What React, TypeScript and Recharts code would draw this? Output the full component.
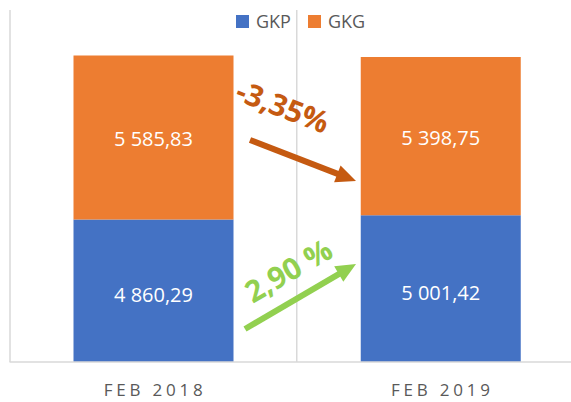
import React from 'react';
import { BarChart, Bar, XAxis, YAxis, CartesianGrid, Legend, LabelList } from 'recharts';

const categories = ['FEB 2018', 'FEB 2019'];
const gkpValues = [4860.29, 5001.42];
const gkgValues = [5585.83, 5398.75];
const yDomain = [0, 12000];

const data = categories.map((c, i) => ({ name: c, GKP: gkpValues[i], GKG: gkgValues[i] }));

const BLUE = '#4472C4';
const ORANGE = '#ED7D31';
const FONT = '"Open Sans", "Noto Sans", sans-serif';

const fmt = (v: number) => {
  const [int, dec] = v.toFixed(2).split('.');
  return int.replace(/\B(?=(\d{3})+(?!\d))/g, ' ') + ',' + dec;
};

const pct = (a: number, b: number) => ((b - a) / a * 100).toFixed(2).replace('.', ',');
const gkgChange = pct(gkgValues[0], gkgValues[1]) + '%';
const gkpChange = pct(gkpValues[0], gkpValues[1]) + ' %';

const makeLabel = (dy: number) => (props: any) => {
  const { x, y, width, height, value } = props;
  return (
    <text x={x + width / 2} y={y + height / 2 + dy} textAnchor="middle" dominantBaseline="central"
      fill="#FFFFFF" fontSize={20} fontFamily={FONT}>{fmt(value)}</text>
  );
};

const Tick = (props: any) => {
  const { x, y, payload } = props;
  return (
    <text x={x + 2} y={y + 34} textAnchor="middle" fill="#595959" fontSize={17}
      fontFamily={FONT} letterSpacing={3.8}>{payload.value}</text>
  );
};

const LegendContent = () => (
  <div style={{ display: 'flex', alignItems: 'center', fontFamily: FONT, fontSize: 18, color: '#595959', lineHeight: '20px' }}>
    {[['GKP', BLUE], ['GKG', ORANGE]].map(([n, c], i) => (
      <div key={n} style={{ display: 'flex', alignItems: 'center', marginRight: i === 0 ? 17 : 0 }}>
        <span style={{ display: 'inline-block', width: 13, height: 13, background: c, marginRight: 7 }} />
        <span>{n}</span>
      </div>
    ))}
  </div>
);

const Arrow = ({ x1, y1, x2, y2, color }: any) => {
  const dx = x2 - x1, dy = y2 - y1;
  const L = Math.hypot(dx, dy);
  const ux = dx / L, uy = dy / L;
  const nx = -uy, ny = ux;
  const hl = 20, hw = 9;
  const bx = x2 - hl * ux, by = y2 - hl * uy;
  return (
    <g>
      <line x1={x1} y1={y1} x2={bx + ux} y2={by + uy} stroke={color} strokeWidth={6} />
      <polygon points={`${x2},${y2} ${bx + hw * nx},${by + hw * ny} ${bx - hw * nx},${by - hw * ny}`} fill={color} />
    </g>
  );
};

export default function App() {
  return (
    <div style={{ position: 'absolute', left: 0, top: 0, width: 571, height: 402, overflow: 'hidden', background: '#fff' }}>
      <BarChart width={584} height={402} data={data} margin={{ top: 0, right: 0, left: 9.5, bottom: 10 }}>
        <CartesianGrid horizontal={false} stroke="#D9D9D9" strokeWidth={1.5}
          verticalCoordinatesGenerator={({ offset }: any) => [offset.left + 0.5, offset.left + offset.width / 2]} />
        <XAxis dataKey="name" height={30} tickLine={false} tickSize={0} tickMargin={0}
          axisLine={{ stroke: '#D9D9D9', strokeWidth: 1.5 }} tick={<Tick />} interval={0} />
        <YAxis hide domain={yDomain} />
        <Legend verticalAlign="top" height={10} content={<LegendContent />}
          wrapperStyle={{ top: 11, left: 236, width: 'auto', height: 10, overflow: 'visible' }} />
        <Bar dataKey="GKP" stackId="a" fill={BLUE} barSize={160} isAnimationActive={false}>
          <LabelList dataKey="GKP" content={makeLabel(4)} />
        </Bar>
        <Bar dataKey="GKG" stackId="a" fill={ORANGE} barSize={160} isAnimationActive={false}>
          <LabelList dataKey="GKG" content={makeLabel(1)} />
        </Bar>
      </BarChart>
      <svg width={571} height={402} style={{ position: 'absolute', left: 0, top: 0, pointerEvents: 'none' }}>
        <Arrow x1={250} y1={140} x2={356} y2={181} color="#C55A11" />
        <Arrow x1={245} y1={329} x2={356} y2={264} color="#92D050" />
        <text x={283} y={106} transform="rotate(21 283 106)" textAnchor="middle" dominantBaseline="central"
          fill="#C55A11" fontSize={30} fontWeight="bold" fontFamily={FONT}>{gkgChange}</text>
        <text x={288} y={270} transform="rotate(-30 288 270)" textAnchor="middle" dominantBaseline="central"
          fill="#92D050" fontSize={30} fontWeight="bold" fontFamily={FONT}>{gkpChange}</text>
      </svg>
    </div>
  );
}
